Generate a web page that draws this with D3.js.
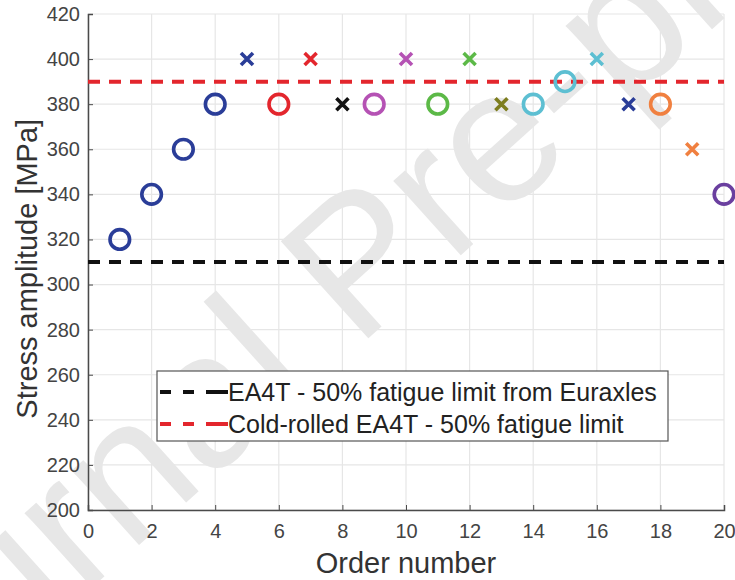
<!DOCTYPE html>
<html>
<meta charset="utf-8">
<head>
<script src="https://cdnjs.cloudflare.com/ajax/libs/d3/7.8.5/d3.min.js"></script>
<style>
  body { margin: 0; background: #fff; }
  text { font-family: "Liberation Sans", Arial, sans-serif; }
</style>
</head>
<body>
<script>

const width = 735,
    height = 580;

// Specimen data
const orders = [1, 2, 3, 4, 5, 6, 7, 8, 9, 10, 11, 12, 13, 14, 15, 16, 17, 18, 19, 20];
const stress = [320, 340, 360, 380, 400, 380, 400, 380, 380, 400, 380, 400, 380, 380, 390, 400, 380, 380, 360, 340];
// "o" = run-out, "x" = failure
const markers = ["o", "o", "o", "o", "x", "o", "x", "x", "o", "x", "o", "x", "x", "o", "o", "x", "x", "o", "x", "o"];
const colours = ["#2a3d98", "#2a3d98", "#2a3d98", "#2a3d98", "#2a3d98", "#e3262d", "#e3262d", "#111111", "#b552b4", "#b552b4",
    "#5cb947", "#5cb947", "#7d7d1e", "#5dbfd2", "#5dbfd2", "#5dbfd2", "#2a3d98", "#f08040", "#f08040", "#6a3f9f"];

const limitNames = ["EA4T - 50% fatigue limit from Euraxles", "Cold-rolled EA4T - 50% fatigue limit"];
const limitValues = [310, 390];
const limitColours = ["#111111", "#e3262d"];

const xTicks = [0, 2, 4, 6, 8, 10, 12, 14, 16, 18, 20];
const yTicks = [200, 220, 240, 260, 280, 300, 320, 340, 360, 380, 400, 420];

const margin = {left: 88, right: 11, top: 14, bottom: 70};

const svg = d3.select("body")
    .append("svg")
    .attr("width", width)
    .attr("height", height);

const x = d3.scaleLinear().domain([0, 20]).range([margin.left, width - margin.right]);
const y = d3.scaleLinear().domain([200, 420]).range([height - margin.bottom, margin.top]);

// Grid
svg.append("g")
    .selectAll("line")
    .data(xTicks)
    .join("line")
    .attr("x1", d => x(d)).attr("x2", d => x(d))
    .attr("y1", y(200)).attr("y2", y(420))
    .attr("stroke", "#e6e6e6").attr("stroke-width", 1.2);
svg.append("g")
    .selectAll("line")
    .data(yTicks)
    .join("line")
    .attr("x1", x(0)).attr("x2", x(20))
    .attr("y1", d => y(d)).attr("y2", d => y(d))
    .attr("stroke", "#e6e6e6").attr("stroke-width", 1.2);

// Watermark
svg.append("text")
    .attr("transform", "translate(400,310) rotate(-42)")
    .attr("text-anchor", "middle")
    .attr("font-size", "190px")
    .attr("fill", "#e7e7e7")
    .text("Journal Pre-proof");

// Axes
const xAxis = svg.append("g")
    .attr("transform", `translate(0,${y(200)})`)
    .call(d3.axisBottom(x).tickValues(xTicks).tickSize(-5).tickPadding(14));
const yAxis = svg.append("g")
    .attr("transform", `translate(${x(0)},0)`)
    .call(d3.axisLeft(y).tickValues(yTicks).tickSize(-5).tickPadding(8));
[xAxis, yAxis].forEach(a => {
    a.select(".domain").attr("stroke", "#4a4a4a").attr("stroke-width", 1.5);
    a.selectAll(".tick line").attr("stroke", "#4a4a4a");
    a.selectAll(".tick text").attr("font-size", "20px").attr("fill", "#444");
});

// Limit lines
svg.append("g")
    .selectAll("line")
    .data(limitValues)
    .join("line")
    .attr("x1", x(0)).attr("x2", x(20))
    .attr("y1", d => y(d)).attr("y2", d => y(d))
    .attr("stroke", (d, i) => limitColours[i])
    .attr("stroke-width", 4)
    .attr("stroke-dasharray", "12,9");

// Points
const points = orders.map((o, i) => ({o: o, s: stress[i], m: markers[i], c: colours[i]}));
svg.append("g")
    .selectAll("circle")
    .data(points.filter(d => d.m === "o"))
    .join("circle")
    .attr("cx", d => x(d.o))
    .attr("cy", d => y(d.s))
    .attr("r", 9.8)
    .attr("fill", "none")
    .attr("stroke", d => d.c)
    .attr("stroke-width", 3.6);
svg.append("g")
    .selectAll("path")
    .data(points.filter(d => d.m === "x"))
    .join("path")
    .attr("d", d => {
        const cx = x(d.o), cy = y(d.s), h = 6;
        return `M${cx - h},${cy - h}L${cx + h},${cy + h}M${cx - h},${cy + h}L${cx + h},${cy - h}`;
    })
    .attr("stroke", d => d.c)
    .attr("stroke-width", 3.6)
    .attr("fill", "none");

// Legend
const legend = svg.append("g");
legend.append("rect")
    .attr("x", 157).attr("y", 371)
    .attr("width", 511).attr("height", 70)
    .attr("fill", "#fff")
    .attr("stroke", "#555").attr("stroke-width", 1.2);
limitNames.forEach((name, i) => {
    const ly = 392 + i * 32;
    legend.append("line")
        .attr("x1", 160).attr("x2", 228)
        .attr("y1", ly).attr("y2", ly)
        .attr("stroke", limitColours[i])
        .attr("stroke-width", 4)
        .attr("stroke-dasharray", "11,12,11,12,22");
    legend.append("text")
        .attr("x", 228).attr("y", ly + 9)
        .attr("font-size", "25px")
        .attr("fill", "#222")
        .text(name);
});

// Axis titles
svg.append("text")
    .attr("x", 406).attr("y", 573)
    .attr("text-anchor", "middle")
    .attr("font-size", "29px")
    .attr("fill", "#333")
    .text("Order number");
svg.append("text")
    .attr("transform", `translate(37,${y(307)}) rotate(-90)`)
    .attr("text-anchor", "middle")
    .attr("font-size", "29px")
    .attr("fill", "#333")
    .text("Stress amplitude [MPa]");

</script>
</body>
</html>
